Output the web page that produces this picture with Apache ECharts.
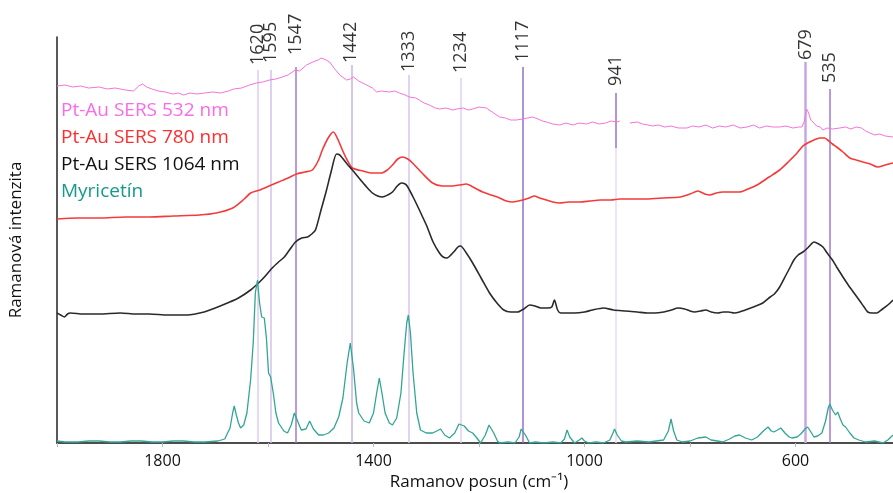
<!DOCTYPE html>
<html>
<head>
<meta charset="utf-8">
<script src="https://cdn.jsdelivr.net/npm/echarts@6/dist/echarts.min.js"></script>
<style>
html,body{margin:0;padding:0;background:#fff;overflow:hidden;}
#chart{width:893px;height:493px;}
</style>
</head>
<body>
<div id="chart"></div>
<script>
// ---- Data (Raman shift cm-1, relative intensity) ----
const seriesNames = ['Pt-Au SERS 532 nm','Pt-Au SERS 780 nm','Pt-Au SERS 1064 nm','Myricetín'];

const pt532 = [[2000,357],[1985,358],[1970,356],[1955,357],[1940,355],[1920,356],[1905,354],[1890,355],[1870,353],[1855,352],[1845,357],[1838,359],[1830,356],[1820,354],[1808,352],[1795,351],[1780,349],[1770,350],[1760,348],[1748,350],[1735,349],[1720,350],[1705,351],[1690,350],[1675,352],[1665,354],[1650,355],[1635,358],[1622,360],[1610,361],[1597,363],[1585,364],[1573,366],[1562,368],[1554,371],[1548,373],[1540,372],[1527,378],[1515,381],[1505,383],[1499,385],[1490,383],[1483,381],[1475,375],[1464,368],[1451,363],[1444,364],[1438,366],[1428,362],[1413,358],[1402,355],[1394,351],[1385,352],[1370,351],[1360,352],[1351,350],[1340,348],[1332,346],[1320,345],[1313,343],[1304,340],[1294,338],[1283,335],[1275,334],[1262,335],[1250,333],[1242,334],[1230,335],[1220,333],[1212,334],[1200,336],[1186,335],[1175,331],[1161,326],[1150,325],[1140,323],[1129,323],[1117,324],[1108,325],[1098,326],[1088,324],[1080,322],[1072,321],[1060,319],[1047,318],[1035,320],[1022,318],[1010,320],[996,319],[985,321],[972,319],[960,320],[950,322],[939,321],[933,322],[925,null],[914,320],[900,321],[890,319],[880,318],[871,317],[860,318],[848,316],[836,317],[822,315],[806,315],[795,317],[783,316],[770,318],[757,315],[744,317],[732,316],[718,318],[705,315],[692,316],[680,318],[668,315],[655,317],[643,316],[630,316],[618,317],[605,315],[594,316],[588,316],[583,322],[579,334],[575,330],[571,323],[567,321],[560,317],[553,316],[548,313],[540,315],[530,314],[516,315],[505,316],[495,314],[485,316],[475,315],[467,312],[459,310],[450,308],[440,309],[430,307],[415,306]];

const pt780 = [[2000,224],[1960,225],[1920,225],[1870,226],[1825,226],[1780,227],[1730,228],[1698,230],[1667,235],[1645,244],[1633,250],[1616,253],[1598,257],[1580,261],[1562,265],[1546,269],[1530,271],[1516,273],[1505,282],[1497,293],[1486,305],[1476,311],[1467,303],[1459,293],[1450,283],[1440,275],[1420,272],[1402,270],[1385,270],[1374,273],[1364,278],[1354,284],[1345,286],[1335,284],[1326,280],[1308,270],[1288,260],[1270,257],[1250,257],[1237,258],[1224,259],[1208,255],[1193,251],[1177,248],[1161,245],[1148,242],[1136,241],[1117,243],[1105,245],[1095,247],[1085,245],[1072,243],[1060,241],[1047,240],[1030,241],[1009,241],[990,242],[970,243],[950,243],[933,244],[910,244],[882,244],[850,245],[819,246],[800,249],[785,252],[772,249],[762,248],[750,250],[738,251],[720,251],[706,251],[690,254],[673,258],[650,266],[630,273],[612,282],[597,290],[586,297],[577,300],[565,303],[554,305],[545,305],[539,303],[530,299],[522,296],[510,291],[497,285],[485,283],[472,281],[458,279],[444,276],[430,278],[415,280]];

const pt1064 = [[2000,130],[1993,128],[1986,126],[1980,129],[1975,130],[1950,129],[1920,129],[1880,130],[1850,129],[1825,129],[1790,128],[1753,128],[1721,131],[1700,135],[1677,140],[1656,145],[1633,153],[1618,160],[1605,167],[1592,175],[1580,181],[1569,186],[1558,194],[1548,201],[1536,205],[1525,206],[1517,209],[1510,213],[1500,232],[1489,253],[1480,272],[1470,289],[1464,288],[1459,285],[1450,279],[1440,273],[1426,264],[1413,256],[1402,250],[1392,247],[1383,246],[1373,248],[1364,251],[1355,257],[1347,260],[1340,259],[1335,256],[1324,245],[1313,233],[1306,225],[1299,217],[1287,201],[1275,190],[1268,186],[1261,185],[1248,191],[1240,196],[1235,197],[1224,190],[1212,180],[1195,164],[1180,150],[1166,140],[1153,133],[1140,131],[1127,131],[1115,134],[1104,138],[1094,137],[1083,135],[1070,135],[1062,136],[1057,143],[1051,133],[1045,130],[1030,130],[1019,130],[1000,131],[985,133],[964,135],[945,133],[922,132],[900,131],[880,130],[867,130],[850,131],[835,133],[823,135],[810,134],[800,132],[791,131],[780,132],[770,133],[760,131],[747,130],[737,131],[727,131],[716,130],[706,131],[690,134],[675,137],[662,140],[648,146],[640,149],[630,156],[618,168],[610,176],[603,183],[595,188],[586,191],[577,195],[570,199],[565,201],[556,199],[548,196],[540,190],[530,183],[522,176],[510,166],[500,158],[489,150],[478,142],[470,136],[463,131],[455,130],[446,130],[435,134],[425,138],[415,143]];

const myricetin = [[2000,2],[1985,1],[1960,1],[1940,2],[1920,2],[1900,1],[1880,1],[1860,2],[1840,2],[1820,1],[1800,1],[1780,2],[1760,2],[1740,1],[1720,1],[1695,2],[1682,4],[1672,15],[1667,30],[1664,37],[1660,28],[1656,20],[1652,15],[1646,18],[1640,30],[1633,63],[1628,100],[1624,150],[1620,163],[1616,140],[1612,126],[1607,125],[1603,105],[1599,70],[1595,66],[1590,50],[1585,30],[1580,20],[1570,12],[1563,10],[1556,18],[1550,30],[1544,22],[1537,13],[1528,14],[1521,22],[1514,14],[1504,8],[1495,8],[1485,10],[1475,15],[1466,26],[1458,45],[1450,80],[1444,100],[1438,75],[1432,40],[1428,30],[1418,22],[1408,20],[1400,30],[1394,50],[1389,65],[1384,50],[1378,30],[1370,20],[1364,18],[1356,25],[1348,50],[1342,90],[1337,120],[1334,128],[1330,110],[1325,70],[1318,30],[1311,13],[1300,10],[1288,10],[1280,12],[1273,14],[1265,8],[1256,5],[1246,10],[1238,19],[1235,21],[1228,17],[1220,12],[1212,10],[1204,5],[1197,0],[1188,8],[1181,18],[1178,20],[1172,10],[1165,2],[1161,0],[1145,1],[1132,0],[1124,6],[1120,14],[1117,16],[1112,8],[1104,0],[1093,1],[1077,0],[1060,1],[1045,0],[1038,4],[1033,13],[1028,6],[1019,0],[1010,3],[1005,5],[1000,2],[992,0],[978,1],[964,0],[952,3],[946,10],[943,14],[938,8],[930,2],[922,1],[900,2],[878,1],[850,3],[841,12],[836,24],[831,12],[825,3],[814,1],[800,2],[785,5],[770,6],[760,3],[748,2],[738,1],[725,4],[715,7],[706,8],[695,5],[683,3],[672,6],[661,12],[652,16],[646,12],[641,11],[634,13],[628,15],[620,10],[612,6],[607,5],[597,6],[590,9],[582,14],[577,16],[572,12],[565,6],[558,7],[550,10],[543,22],[538,35],[535,39],[530,33],[524,28],[520,31],[515,24],[510,18],[505,16],[497,10],[489,5],[480,3],[467,1],[450,2],[434,0],[425,3],[415,8]];

// Peak marker annotations
const peakLabels = ['1620','1595','1547','1442','1333','1234','1117','941','679','535'];
const peakPos    = [1620, 1595, 1547, 1442, 1333, 1234, 1117, 941, 581, 535];
const peakLineTop = [373, 373, 376, 378, 368, 365, 376, 350, 381, 354];
const peakLabelBase = [378, 380, 388, 380, 371, 370, 381, 357, 383, 360];

// ---- Styles ----
const FONT = 'Open Sans';
const peakColors = ['#dcccf0','#d3c1ee','#9c7bcf','#c9b3e6','#d6c6ef','#ddd0f2','#9270c8','#e6dbf5','#c4a8e4','#9c7bcf'];
const peakWidths = [1.5,1.5,1.5,1.5,1.5,1.5,1.5,1.5,2.5,1.5];

const markData = peakPos.map((v,i)=>[
  {coord:[v, peakLineTop[i]], lineStyle:{color:peakColors[i], width:peakWidths[i], type:'solid'}},
  {coord:[v, 0]}
]);
// darker upper segment of 941 marker
markData.push([
  {coord:[peakPos[7], peakLineTop[7]], lineStyle:{color:'#9c7bcf', width:1.5, type:'solid'}},
  {coord:[peakPos[7], 295]}
]);

const chart = echarts.init(document.getElementById('chart'), null, {renderer:'canvas', width:893, height:493});
chart.setOption({
  animation:false,
  backgroundColor:'#ffffff',
  textStyle:{fontFamily:FONT},
  grid:{left:57, width:844, top:37, height:406, containLabel:false, outerBoundsMode:'none'},
  legend:{
    orient:'vertical', left:51, top:96, icon:'none', itemWidth:0, itemHeight:18, itemGap:8,
    selectedMode:false,
    textStyle:{fontFamily:FONT, fontSize:19, padding:[0,0,0,0]},
    data:[
      {name:seriesNames[0], textStyle:{color:'#fb6ae9'}},
      {name:seriesNames[1], textStyle:{color:'#ff2e2e'}},
      {name:seriesNames[2], textStyle:{color:'#111111'}},
      {name:seriesNames[3], textStyle:{color:'#16998a'}}
    ]
  },
  xAxis:{
    type:'value', inverse:true, min:400, max:2000, interval:200,
    axisLine:{show:true, onZero:false, lineStyle:{color:'#4d4d4d', width:2}},
    axisTick:{show:true, length:4, lineStyle:{color:'#bbbbbb'}},
    axisLabel:{fontSize:16, color:'#111', margin:10, fontFamily:FONT,
      formatter:v => (v % 400 === 200 ? String(v) : '')},
    splitLine:{show:false},
    name:'Ramanov posun (cm\u207B\u00B9)', nameLocation:'middle', nameGap:31,
    nameTextStyle:{fontSize:17, color:'#111', fontFamily:FONT}
  },
  yAxis:{
    type:'value', min:0, max:406,
    axisLine:{show:true, lineStyle:{color:'#222', width:1.5}},
    axisTick:{show:false}, axisLabel:{show:false}, splitLine:{show:false},
    name:'Ramanová intenzita', nameLocation:'middle', nameGap:32, nameRotate:90,
    nameTextStyle:{fontSize:17, color:'#111', fontFamily:FONT}
  },
  series:[
    {
      type:'scatter', z:1, silent:true, symbolSize:0,
      data: peakPos.map((v,i)=>[v, peakLabelBase[i]]),
      label:{show:true, position:[0,0], rotate:90, align:'left', verticalAlign:'middle',
        fontSize:18, color:'#000', fontFamily:FONT,
        formatter:p => peakLabels[p.dataIndex]},
      markLine:{silent:true, symbol:['none','none'], label:{show:false}, z:1,
        emphasis:{disabled:true}, data:markData}
    },
    {name:seriesNames[0], type:'line', z:3, data:pt532, showSymbol:false, connectNulls:false,
      lineStyle:{color:'#f573d8', width:1}, itemStyle:{color:'#f573d8'}},
    {name:seriesNames[1], type:'line', z:3, data:pt780, showSymbol:false, smooth:0.25,
      lineStyle:{color:'#f53a3a', width:1.6}, itemStyle:{color:'#f53a3a'}},
    {name:seriesNames[2], type:'line', z:3, data:pt1064, showSymbol:false, smooth:0.25,
      lineStyle:{color:'#2a2a2a', width:1.6}, itemStyle:{color:'#2a2a2a'}},
    {name:seriesNames[3], type:'line', z:3, data:myricetin, showSymbol:false,
      lineStyle:{color:'#32a596', width:1.3}, itemStyle:{color:'#32a596'}}
  ]
});
</script>
</body>
</html>
